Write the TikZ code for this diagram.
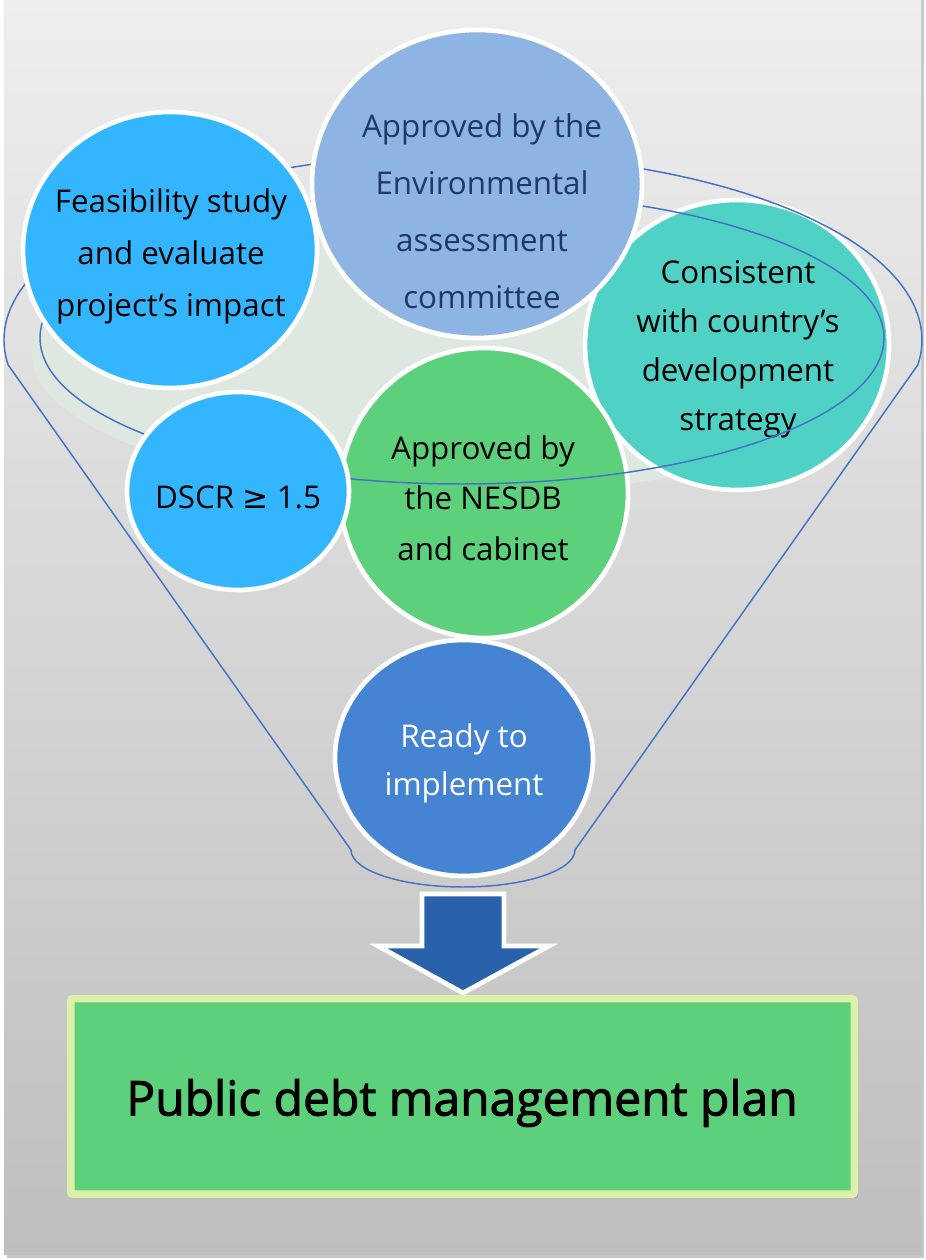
\documentclass[tikz,border=0pt]{standalone}
\usepackage{fontspec}
\setmainfont{Open Sans}
\newfontfamily\symfont{DejaVu Sans}
\newfontfamily\planfont[FakeBold=2]{Open Sans}
\usetikzlibrary{shapes.geometric,shadows}
\definecolor{bgtop}{RGB}{238,238,238}
\definecolor{bgbot}{RGB}{190,190,190}
\definecolor{faint}{RGB}{223,232,224}
\definecolor{skyb}{RGB}{51,182,255}
\definecolor{envb}{RGB}{142,180,227}
\definecolor{teal}{RGB}{79,209,197}
\definecolor{grn}{RGB}{92,208,122}
\definecolor{readyb}{RGB}{69,132,211}
\definecolor{linb}{RGB}{68,114,196}
\definecolor{navy}{RGB}{31,56,100}
\definecolor{arrb}{RGB}{41,98,170}
\definecolor{lime}{RGB}{221,240,170}
\begin{document}
\begin{tikzpicture}[x=0.75pt,y=0.75pt,
  bubble/.style={ellipse,draw=white,line width=3.5pt,inner sep=0pt},
  btext/.style={align=center,font=\fontsize{23.5}{39}\selectfont,text=black},
  funnelline/.style={draw=linb,line width=1.1pt},
  blockarrow/.style={fill=arrb,draw=white,line width=3.6pt,line join=miter},
  planbox/.style={rectangle,fill=grn,draw=lime,line width=5.6pt,rounded corners=1.5pt,
     drop shadow={shadow xshift=3pt,shadow yshift=-3pt,opacity=0.35}}]
\useasboundingbox (0,0) rectangle (925,1260);
\fill[white] (0,0) rectangle (925,1260);
% background panel
\fill[black!22] (7,2) rectangle (924,1260);
\shade[top color=bgtop,bottom color=bgbot] (4,5) rectangle (921,1260);
% faint funnel surface
\fill[faint] (460,905) ellipse [x radius=428, y radius=140];
% bubbles under the funnel lines
\node[bubble,fill=teal,minimum width=228pt,minimum height=217.5pt] (cons) at (737,915) {};
\node[btext,font=\fontsize{23.5}{36.75}\selectfont] (tcons) at (738,911) {Consistent\\with country’s\\development\\strategy};
\node[bubble,fill=grn,minimum width=216pt,minimum height=217.5pt] (nesdb) at (484,767) {};
\node[btext,font=\fontsize{23.5}{38}\selectfont] (tnesdb) at (483,762) {Approved by\\the NESDB\\and cabinet};
% funnel outline
\draw[funnelline] (463,920) ++(187.7:459 and 186)
  arc[start angle=187.7,end angle=-7.7,x radius=459,y radius=186]
  -- (575,410) arc[start angle=0,end angle=-180,x radius=112,y radius=37] -- cycle;
\draw[funnelline] (462,922) ellipse [x radius=422, y radius=146];
% bubbles over the funnel lines
\node[bubble,fill=skyb,minimum width=220.5pt,minimum height=207pt] (feas) at (170,1010) {};
\node[btext] (tfeas) at (171,1004) {Feasibility study\\and evaluate\\project’s impact};
\node[bubble,fill=envb,minimum width=247.5pt,minimum height=231pt] (env) at (477,1076) {};
\node[btext,text=navy,font=\fontsize{23.5}{42.75}\selectfont] (tenv) at (482,1049) {Approved by the\\Environmental\\assessment\\committee};
\node[bubble,fill=skyb,minimum width=166.5pt,minimum height=148.5pt] (dscr) at (238,769) {};
\node[btext] (tdscr) at (238,763) {DSCR {\symfont ≥} 1.5};
\node[bubble,fill=readyb,minimum width=193.5pt,minimum height=177pt] (ready) at (464,502) {};
\node[btext,text=white,font=\fontsize{23.5}{36}\selectfont] (tready) at (464,497) {Ready to\\implement};
% block arrow
\draw[blockarrow] (422,366) -- (504,366) -- (504,314) -- (549,314) -- (463,267)
  -- (378,314) -- (422,314) -- cycle;
% plan box
\node[planbox,minimum width=587.6pt,minimum height=146.6pt] (plan) at (462.5,163.5) {};
\node[font=\planfont\fontsize{36}{42}\selectfont] (tplan) at (462,157) {Public debt management plan};
\end{tikzpicture}
\end{document}
